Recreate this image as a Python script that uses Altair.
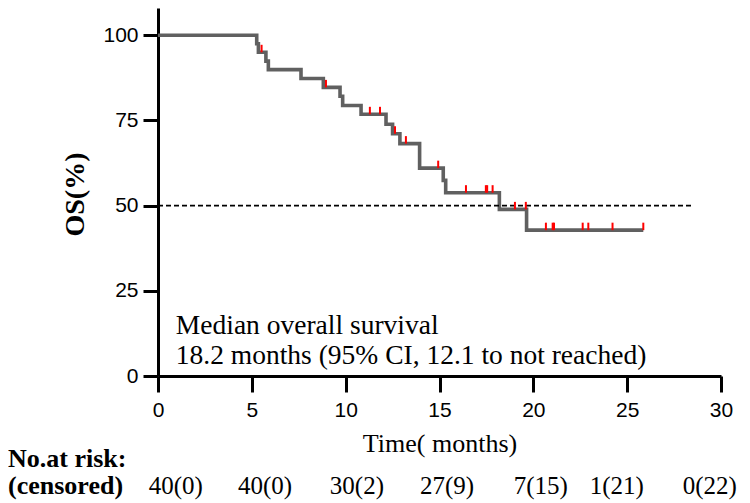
import altair as alt
import pandas as pd
import bisect

# Kaplan-Meier step curve (months, OS %)
step_time = [0, 5.26, 5.35, 5.75, 5.88, 7.62, 8.81, 9.70, 9.84, 10.82, 12.15,
             12.50, 12.89, 13.94, 15.20, 15.33, 18.19, 19.64, 25.86]
step_surv = [100, 97.5, 95.0, 92.4, 89.9, 87.3, 84.7, 82.1, 79.4, 76.8, 73.9,
             71.1, 68.2, 61.0, 57.4, 53.8, 48.9, 42.8, 42.8]

# censoring times (months)
censor_time = [5.52, 8.95, 11.29, 11.83, 12.63, 13.21, 14.93, 16.41, 17.47,
               17.54, 17.83, 19.02, 19.60, 20.67, 21.03, 21.10, 22.63, 22.93,
               24.22, 25.86]

x_ticks = [0, 5, 10, 15, 20, 25, 30]
y_ticks = [0, 25, 50, 75, 100]

risk_labels = ["40(0)", "40(0)", "30(2)", "27(9)", "7(15)", "1(21)", "0(22)"]
risk_pos = [0.95, 5.7, 10.6, 15.4, 20.4, 24.45, 29.4]

median_line = 50
median_end = 28.5

ann_lines = ["Median overall survival",
             "18.2 months (95% CI, 12.1 to not reached)"]
ann_x = [0.95, 0.95]
ann_y = [14.6, 5.8]


def level_at(t):
    i = bisect.bisect_right(step_time, t) - 1
    return step_surv[max(i, 0)]


curve = pd.DataFrame({"t": step_time, "s": step_surv})
cens = pd.DataFrame({"t": censor_time,
                     "s": [level_at(t) for t in censor_time]})
cens["s2"] = cens["s"] + 2.2

xscale = alt.Scale(domain=[0, 30], nice=False, zero=False)
yscale = alt.Scale(domain=[0, 108], nice=False)

xaxis = alt.Axis(values=x_ticks, title="Time( months)", grid=False,
                 tickSize=16, tickWidth=3, domainWidth=3,
                 domainColor="black", tickColor="black",
                 labelFont="Liberation Sans", labelFontSize=21,
                 labelColor="black", labelBaseline="middle", labelPadding=18,
                 labelFlush=False,
                 titleFont="Liberation Serif", titleFontSize=26,
                 titleFontWeight="normal", titleColor="black",
                 titleBaseline="middle", titleY=67)
yaxis = alt.Axis(values=y_ticks, title="OS(%)", grid=False,
                 tickSize=15, tickWidth=3, domainWidth=3,
                 domainColor="black", tickColor="black",
                 labelFont="Liberation Sans", labelFontSize=21,
                 labelColor="black", labelPadding=5,
                 titleFont="Liberation Serif", titleFontSize=28,
                 titleFontWeight="bold", titleColor="black",
                 titleAngle=270, titleBaseline="middle", titleAlign="center",
                 titleX=-83, titleY=186)

line = alt.Chart(curve).mark_line(
    interpolate="step-after", color="#606060", strokeWidth=3.6
).encode(
    x=alt.X("t:Q", scale=xscale, axis=xaxis),
    y=alt.Y("s:Q", scale=yscale, axis=yaxis),
)

ticks = alt.Chart(cens).mark_rule(color="#ff0000", strokeWidth=2).encode(
    x="t:Q", y="s:Q", y2="s2:Q"
)

dash = alt.Chart(pd.DataFrame({"x": [0], "x2": [median_end], "y": [median_line]})).mark_rule(
    color="black", strokeWidth=1.8, strokeDash=[5, 3]
).encode(x="x:Q", x2="x2:Q", y="y:Q")

ann = alt.Chart(pd.DataFrame({"txt": ann_lines, "x": ann_x, "y": ann_y})).mark_text(
    font="Liberation Serif", fontSize=27.5, align="left", baseline="middle", color="black"
).encode(x="x:Q", y="y:Q", text="txt:N")

risk = alt.Chart(pd.DataFrame({"txt": risk_labels, "x": risk_pos})).mark_text(
    font="Liberation Serif", fontSize=25, align="center", baseline="alphabetic", color="black"
).encode(x="x:Q", y=alt.value(486), text="txt:N")

head1 = alt.Chart(pd.DataFrame({"txt": ["No.at risk:"]})).mark_text(
    font="Liberation Serif", fontSize=26, fontWeight="bold", align="left",
    baseline="alphabetic", color="black"
).encode(x=alt.value(-150), y=alt.value(459), text="txt:N")

head2 = alt.Chart(pd.DataFrame({"txt": ["(censored)"]})).mark_text(
    font="Liberation Serif", fontSize=26, fontWeight="bold", align="left",
    baseline="alphabetic", color="black"
).encode(x=alt.value(-150), y=alt.value(486), text="txt:N")

chart = alt.layer(line, dash, ticks, ann, risk, head1, head2).properties(
    width=563, height=368,
    background="white",
    autosize=alt.AutoSizeParams(type="none"),
    padding={"left": 150, "top": 0, "right": 17, "bottom": 127},
).configure_view(strokeWidth=0, stroke="transparent")

chart.save("out.html", embed_options={"renderer": "svg", "actions": False})
